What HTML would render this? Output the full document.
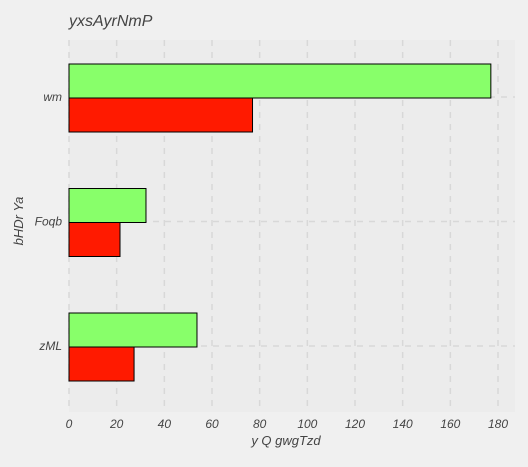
<!DOCTYPE html>
<html><head><meta charset="utf-8"><style>
body{margin:0;background:#f0f0f0;}
svg text{font-family:"Liberation Sans",sans-serif;font-style:italic;fill:#444;}
</style></head><body>
<svg id="c" width="528" height="462">
<rect x="0" y="0" width="528" height="462" fill="#f0f0f0"/>
<rect x="69" y="40" width="446" height="372" fill="#ececec"/>
<text x="69" y="26" font-size="16" fill="#333">yxsAyrNmP</text>
<text x="286" y="445" font-size="13" text-anchor="middle">y Q  gwgTzd</text>
<text transform="translate(23,221) rotate(-90)" font-size="13" text-anchor="middle">bHDr Ya</text>
<g id="g"></g>
</svg>
<script>
const categories=["wm","Foqb","zML"];
const seriesGreen=[177,32.3,53.7];
const seriesRed=[77,21.4,27.3];
const xTicks=[0,20,40,60,80,100,120,140,160,180];
const x0=69,pxPer=(498-69)/180;
const yCenters=[97,221,346];
function xs(v){return x0+v*pxPer;}
function ys(i){return yCenters[0]+i*((yCenters[2]-yCenters[0])/(categories.length-1));}
const g=document.getElementById('g');
const NS='http://www.w3.org/2000/svg';
function mk(t,a){const e=document.createElementNS(NS,t);for(const k in a)e.setAttribute(k,a[k]);g.appendChild(e);return e;}
xTicks.forEach(t=>{
 const l=mk('line',{x1:xs(t),x2:xs(t),y1:40,y2:412,stroke:'#d8d8d8','stroke-width':1.5,'stroke-dasharray':'6,6'});
 
 
 const tx=mk('text',{x:xs(t),y:428,'font-size':12,'text-anchor':'middle'});
 tx.textContent=t;
 
 
});
categories.forEach((c,i)=>{
 const y=ys(i);
 const l=mk('line',{x1:69,x2:515,y1:y,y2:y,stroke:'#d8d8d8','stroke-width':1.5,'stroke-dasharray':'6,6'});
 
 
 const tx=mk('text',{x:62,y:y+4,'font-size':12,'text-anchor':'end'});
 tx.textContent=c;
 
 
 const bg=mk('rect',{x:x0,y:y-33,width:xs(seriesGreen[i])-x0,height:34,fill:'#88ff6a',stroke:'#000','stroke-width':1});
 
 
 const br=mk('rect',{x:x0,y:y+1,width:xs(seriesRed[i])-x0,height:34,fill:'#ff1a00',stroke:'#000','stroke-width':1});
 
 
});
</script>
</body></html>
